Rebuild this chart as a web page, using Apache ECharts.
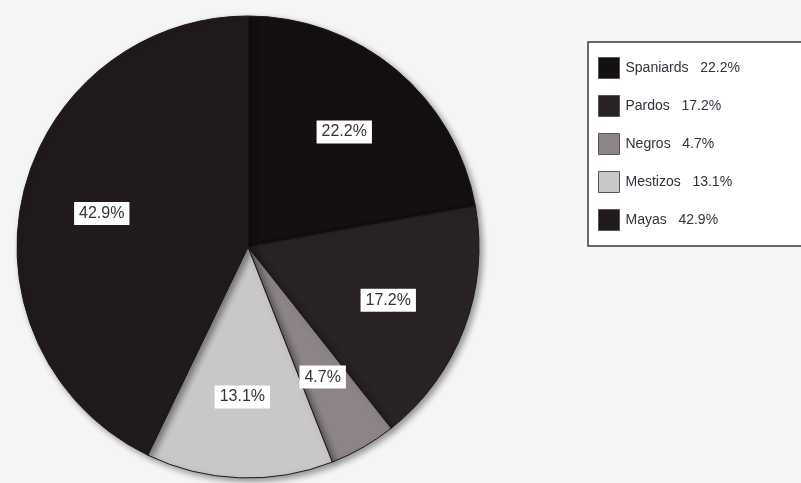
<!DOCTYPE html>
<html><head><meta charset="utf-8">
<script src="https://cdn.jsdelivr.net/npm/echarts@6/dist/echarts.min.js"></script>
<style>html,body{margin:0;padding:0;background:#f5f5f3;}#c{width:801px;height:483px;}</style>
</head><body><div id="c"></div>
<script>
const categories = ['Spaniards', 'Pardos', 'Negros', 'Mestizos', 'Mayas'];
const values = [22.2, 17.2, 4.7, 13.1, 42.9];
const colors = ['#141012', '#2a2325', '#8c8486', '#c9c7c9', '#211a1c'];

const pieData = categories.map((n, i) => ({ name: n, value: values[i], itemStyle: { color: colors[i] } }));
const chart = echarts.init(document.getElementById('c'));
chart.setOption({
  backgroundColor: '#f5f5f3',
  animation: false,
  legend: {
    orient: 'vertical',
    left: 588, top: 42,
    padding: [15, 70, 15, 10],
    backgroundColor: '#ffffff',
    borderColor: '#3a3a3a', borderWidth: 1.5,
    itemWidth: 21, itemHeight: 21, itemGap: 16,
    icon: 'rect',
    data: categories,
    formatter: n => n + '   ' + values[categories.indexOf(n)].toFixed(1) + '%',
    textStyle: { fontFamily: 'Liberation Sans, Arial', fontSize: 14, color: '#35303c', padding: [0,0,0,1] },
    itemStyle: { borderColor: '#555', borderWidth: 1 }
  },
  series: [{
    type: 'pie',
    center: [248, 247], radius: [0, 231],
    startAngle: 90, clockwise: true,
    data: pieData,
    label: { show: false }, labelLine: { show: false },
    itemStyle: { borderColor: '#1a1a1a', borderWidth: 1, shadowBlur: 6, shadowColor: 'rgba(0,0,0,0.4)', shadowOffsetX: 3, shadowOffsetY: 3 },
    silent: true
  }, {
    type: 'pie',
    center: [248, 247], radius: [96, 198],
    startAngle: 90, clockwise: true,
    data: categories.map((n, i) => ({ name: n, value: values[i] })),
    itemStyle: { color: 'rgba(0,0,0,0)' },
    legendHoverLink: false,
    silent: true,
    label: {
      show: true, position: 'inside',
      formatter: p => p.value.toFixed(1) + '%',
      backgroundColor: '#ffffff', color: '#333333',
      padding: [4, 5, 3, 5],
      fontFamily: 'Liberation Sans, Arial', fontSize: 16
    },
    labelLine: { show: false }
  }]
});
</script></body></html>
